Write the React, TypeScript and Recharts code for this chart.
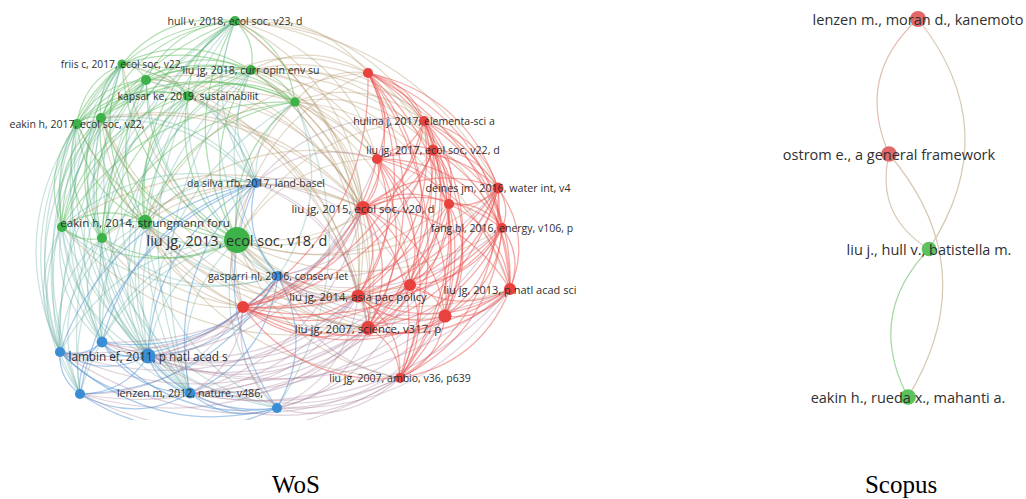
import React from 'react';
import { ScatterChart, Scatter, XAxis, YAxis, ZAxis } from 'recharts';

// Cluster ids: 0 = red, 1 = green, 2 = blue
type NodeRow = [string, number, number, number, number]; // label, x, y, weight, cluster

// Web of Science co-citation map (layout coordinates, weight, cluster)
const wosNodes: NodeRow[] = [
  ['hull v, 2018, ecol soc, v23, d', -0.55, 1.89, 15, 1],
  ['friis c, 2017, ecol soc, v22,', -1.68, 1.46, 12, 1],
  ['', -1.44, 1.3, 15, 1],
  ['liu jg, 2018, curr opin env su', -0.39, 1.4, 15, 1],
  ['kapsar ke, 2019, sustainabilit', -1.02, 1.14, 15, 1],
  ['', 0.05, 1.08, 13, 1],
  ['eakin h, 2017, ecol soc, v22,', -2.13, 0.86, 15, 1],
  ['', -1.89, 0.92, 15, 1],
  ['', -2.28, -0.17, 15, 1],
  ['', -1.88, -0.28, 15, 1],
  ['eakin h, 2014, strungmann foru', -1.45, -0.12, 30, 1],
  ['liu jg, 2013, ecol soc, v18, d', -0.53, -0.3, 98, 1],
  ['da silva rfb, 2017, land-basel', -0.34, 0.27, 14, 2],
  ['gasparri nl, 2016, conserv let', -0.12, -0.66, 15, 2],
  ['lambin ef, 2011, p natl acad s', -1.42, -1.46, 33, 2],
  ['', -2.3, -1.42, 15, 2],
  ['', -1.88, -1.32, 17, 2],
  ['', -2.1, -1.84, 15, 2],
  ['lenzen m, 2012, nature, v486,', -1.0, -1.83, 17, 2],
  ['', -0.13, -1.98, 15, 2],
  ['', -0.47, -0.97, 21, 0],
  ['', 0.78, 1.37, 15, 0],
  ['hulina j, 2017, elementa-sci a', 1.34, 0.89, 15, 0],
  ['liu jg, 2017, ecol soc, v22, d', 1.43, 0.6, 17, 0],
  ['', 0.87, 0.51, 15, 0],
  ['deines jm, 2016, water int, v4', 2.08, 0.22, 17, 0],
  ['', 1.59, 0.06, 15, 0],
  ['liu jg, 2015, ecol soc, v20, d', 0.73, 0.02, 28, 0],
  ['fang bl, 2016, energy, v106, p', 2.12, -0.18, 15, 0],
  ['', 1.2, -0.75, 21, 0],
  ['liu jg, 2013, p natl acad sci', 2.2, -0.79, 21, 0],
  ['liu jg, 2014, asia pac policy', 0.68, -0.86, 25, 0],
  ['', 1.55, -1.06, 25, 0],
  ['liu jg, 2007, science, v317, p', 0.78, -1.18, 28, 0],
  ['liu jg, 2007, ambio, v36, p639', 1.1, -1.68, 15, 0],
];

// Neighbours of node i (only higher indices listed)
const wosLinkLists: string[] = [
  '1 2 3 4 5 6 7 8 9 10 11 12 13 14 15 16 17 18 21 22 23 24 25 27 31 33',
  '2 3 4 5 6 7 8 9 10 11 12 14 15 16 17 18 27 31 33',
  '3 4 5 6 7 8 9 10 11 12 13 14 15 16 18 24 27 33',
  '4 5 6 7 8 9 10 11 12 13 14 16 18 21 22 23 24 25 27 28 30 31 33',
  '5 6 7 8 9 10 11 12 13 14 15 18 21 24 27 31 33',
  '6 7 8 9 10 11 12 13 14 19 20 21 22 23 24 26 27 29 31 33',
  '7 8 9 10 11 12 14 15 16 17 18 27 33',
  '8 9 10 11 12 14 15 16 17 18 20 27 31 33',
  '9 10 11 12 13 14 15 16 17 18 19 27 33',
  '10 11 12 13 14 15 16 17 18 19 20 27 31',
  '11 12 13 14 15 16 17 18 19 20 21 24 27 29 31 33 34',
  '12 13 14 15 16 17 18 19 20 21 22 23 24 25 26 27 28 29 30 31 32 33 34',
  '13 14 15 16 17 18 19 20 22 24 27 29 31 33',
  '14 15 16 17 18 19 20 23 25 27 28 29 30 31 32 33 34',
  '15 16 17 18 19 20 24 27 29 30 31 32 33 34',
  '16 17 18 19 20 27 31 33 34',
  '17 18 19 20 27 29 31 33',
  '18 19 20 31 33 34',
  '19 20 25 27 28 29 30 31 32 33 34',
  '20 29 30 31 32 33 34',
  '21 22 23 24 25 26 27 28 29 30 31 32 33 34',
  '22 23 24 25 26 27 28 29 30 31 32 33 34',
  '23 24 25 26 27 28 29 30 31 32 33 34',
  '24 25 26 27 28 29 30 31 32 33 34',
  '25 26 27 28 29 30 31 32 33 34',
  '26 27 28 29 30 31 32 33 34',
  '27 28 29 30 31 32 33 34',
  '28 29 30 31 32 33 34',
  '29 30 31 32 33 34',
  '30 31 32 33 34',
  '31 32 33 34',
  '32 33 34',
  '33 34',
  '34',
  '',
];

// Scopus co-citation map
const scopusNodes: NodeRow[] = [
  ['lenzen m., moran d., kanemoto', 0.18, 1.91, 37, 0],
  ['ostrom e., a general framework', -0.11, 0.56, 36, 0],
  ['liu j., hull v., batistella m.', 0.29, -0.39, 31, 1],
  ['eakin h., rueda x., mahanti a.', 0.08, -1.87, 36, 1],
];

// Scopus links as [from, to]
const scopusLinks: [number, number][] = [
  [0, 1],
  [2, 0],
  [1, 2],
  [3, 1],
  [2, 3],
];

const panelTitles = ['WoS', 'Scopus'];

const wosLinks: [number, number][] = wosLinkLists.flatMap((s, i) =>
  s.trim() ? s.trim().split(/\s+/).map((j) => [i, Number(j)] as [number, number]) : []
);

const toData = (rows: NodeRow[]) =>
  rows.map(([label, x, y, w, cluster]) => ({ label, x, y, w, cluster }));

const wosData = toData(wosNodes);
const scopusData = toData(scopusNodes);

const NODE_FILL = ['#e8423f', '#3cb249', '#3a8ed6'];
const SCOPUS_FILL = ['#e26868', '#5cc25c', '#3a8ed6'];
const EDGE_RGB: [number, number, number][] = [
  [236, 84, 80],
  [100, 190, 100],
  [84, 150, 214],
];
const SCOPUS_EDGE: Record<string, string> = {
  '0-0': '#e2bfb2',
  '0-1': '#d6c9b4',
  '1-1': '#a2d89d',
};

const edgeColour = (a: number, b: number) => {
  const p = EDGE_RGB[a];
  const q = EDGE_RGB[b];
  const mix = (i: number) => Math.round((p[i] + q[i]) / 2);
  return `rgb(${mix(0)},${mix(1)},${mix(2)})`;
};

type Pt = { x: number; y: number };

// Quadratic curve between two points; the bend goes either to the right of
// the travel direction or away from the centre of the map.
const curve = (a: Pt, b: Pt, k: number, centre?: Pt) => {
  const mx = (a.x + b.x) / 2;
  const my = (a.y + b.y) / 2;
  const nx = -(b.y - a.y) * k;
  const ny = (b.x - a.x) * k;
  let cx = mx + nx;
  let cy = my + ny;
  if (centre) {
    const d1 = (cx - centre.x) ** 2 + (cy - centre.y) ** 2;
    const d2 = (mx - nx - centre.x) ** 2 + (my - ny - centre.y) ** 2;
    if (d2 > d1) {
      cx = mx - nx;
      cy = my - ny;
    }
  }
  return `M${a.x},${a.y} Q${cx},${cy} ${b.x},${b.y}`;
};

const linkLayer =
  (
    data: { cluster: number }[],
    links: [number, number][],
    k: number,
    outward: boolean,
    opacity: number,
    crossFactor: number,
    width: number,
    colour: (a: number, b: number) => string
  ) =>
  (props: any) => {
    const pts: Pt[] = props.points || [];
    if (!pts.length) return <g />;
    const centre = {
      x: pts.reduce((s, p) => s + p.x, 0) / pts.length,
      y: pts.reduce((s, p) => s + p.y, 0) / pts.length,
    };
    return (
      <g>
        {links.map(([s, t], i) => {
          const a = pts[s];
          const b = pts[t];
          if (!a || !b) return null;
          const same = data[s].cluster === data[t].cluster;
          return (
            <path
              key={i}
              d={curve(a, b, k, outward ? centre : undefined)}
              fill="none"
              stroke={colour(data[s].cluster, data[t].cluster)}
              strokeWidth={width}
              strokeOpacity={same ? opacity : opacity * crossFactor}
            />
          );
        })}
      </g>
    );
  };

const scopusColour = (a: number, b: number) =>
  SCOPUS_EDGE[`${Math.min(a, b)}-${Math.max(a, b)}`] || '#cccccc';

const radiusOf = (p: any) => (p.size ? Math.sqrt(p.size / Math.PI) : (p.width || 8) / 2);

const nodeShape = (fills: string[]) => (p: any) => (
  <circle cx={p.cx} cy={p.cy} r={radiusOf(p)} fill={fills[p.payload.cluster]} />
);

const labelShape = (fontSize: (r: number) => number) => (p: any) => {
  if (!p.payload.label) return <g />;
  return (
    <text
      x={p.cx}
      y={p.cy}
      textAnchor="middle"
      dominantBaseline="central"
      fontFamily='"Open Sans", "DejaVu Sans", sans-serif'
      fontSize={fontSize(radiusOf(p))}
      fill="#303030"
    >
      {p.payload.label}
    </text>
  );
};

const emptyShape = () => <g />;

export default function App() {
  return (
    <div
      style={{
        position: 'absolute',
        left: 0,
        top: 0,
        width: 1026,
        height: 499,
        background: '#ffffff',
        overflow: 'hidden',
      }}
    >
      <div style={{ position: 'absolute', left: 0, top: 0 }}>
        <ScatterChart width={580} height={420} margin={{ top: 0, right: 0, bottom: 0, left: 0 }}>
          <XAxis type="number" dataKey="x" domain={[-2.9, 2.9]} allowDataOverflow hide />
          <YAxis type="number" dataKey="y" domain={[-2.1, 2.1]} allowDataOverflow hide />
          <ZAxis type="number" dataKey="w" domain={[0, 100]} range={[0, 540]} />
          <Scatter
            data={wosData}
            isAnimationActive={false}
            line={linkLayer(wosData, wosLinks, 0.28, true, 0.5, 0.65, 1.25, edgeColour)}
            shape={emptyShape}
          />
          <Scatter data={wosData} isAnimationActive={false} shape={nodeShape(NODE_FILL)} />
          <Scatter data={wosData} isAnimationActive={false} shape={labelShape((r) => 8 + 0.5 * r)} />
        </ScatterChart>
      </div>

      <div style={{ position: 'absolute', left: 760, top: 0 }}>
        <ScatterChart width={266} height={420} margin={{ top: 0, right: 0, bottom: 0, left: 0 }}>
          <XAxis type="number" dataKey="x" domain={[-1.4, 1.26]} allowDataOverflow hide />
          <YAxis type="number" dataKey="y" domain={[-2.1, 2.1]} allowDataOverflow hide />
          <ZAxis type="number" dataKey="w" domain={[0, 100]} range={[0, 540]} />
          <Scatter
            data={scopusData}
            isAnimationActive={false}
            line={linkLayer(scopusData, scopusLinks, 0.36, false, 1, 1, 1.2, scopusColour)}
            shape={emptyShape}
          />
          <Scatter data={scopusData} isAnimationActive={false} shape={nodeShape(SCOPUS_FILL)} />
          <Scatter data={scopusData} isAnimationActive={false} shape={labelShape(() => 14.5)} />
        </ScatterChart>
      </div>

      {panelTitles.map((t, i) => (
        <div
          key={t}
          style={{
            position: 'absolute',
            left: i === 0 ? 246 : 851,
            top: 472,
            width: 100,
            textAlign: 'center',
            fontFamily: '"Liberation Serif", "Times New Roman", serif',
            fontSize: 25,
            lineHeight: '25px',
            color: '#000',
          }}
        >
          {t}
        </div>
      ))}
    </div>
  );
}
